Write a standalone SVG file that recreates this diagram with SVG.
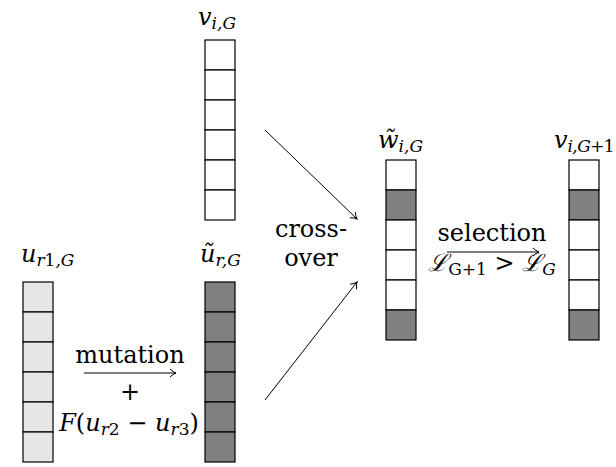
<svg xmlns="http://www.w3.org/2000/svg" width="616" height="467" viewBox="0 0 616 467">
<style>
text{font-family:'DejaVu Serif','Liberation Serif',serif}
.t{font-size:24px;fill:#000}
.m{font-size:24px;font-style:italic;fill:#000}
.s{font-size:17px}
.up{font-style:normal}
.c{stroke:#000;stroke-width:1.2}
.w{fill:#fff}
.g{fill:#808080}
.l{fill:#e6e6e6}
.a{stroke:#000;stroke-width:1;fill:none}
</style>
<defs>
<marker id="ah" markerWidth="12" markerHeight="12" refX="9" refY="6" orient="auto" markerUnits="userSpaceOnUse">
<path d="M3,2 Q6,5 9,6 Q6,7 3,10" fill="none" stroke="#000" stroke-width="1"/>
</marker>
</defs>
<g id="v_iG">
<rect class="c w" x="205" y="40" width="30" height="30"/>
<rect class="c w" x="205" y="70" width="30" height="30"/>
<rect class="c w" x="205" y="100" width="30" height="30"/>
<rect class="c w" x="205" y="130" width="30" height="30"/>
<rect class="c w" x="205" y="160" width="30" height="30"/>
<rect class="c w" x="205" y="190" width="30" height="30"/>
<text class="m" x="198" y="25">v<tspan class="s" dy="4">i,G</tspan></text>
</g>
<g id="u_r1G">
<rect class="c l" x="23" y="282" width="30" height="30"/>
<rect class="c l" x="23" y="312" width="30" height="30"/>
<rect class="c l" x="23" y="342" width="30" height="30"/>
<rect class="c l" x="23" y="372" width="30" height="30"/>
<rect class="c l" x="23" y="402" width="30" height="30"/>
<rect class="c l" x="23" y="432" width="30" height="30"/>
<text class="m" x="21" y="262">u<tspan class="s" dy="4">r<tspan class="up">1</tspan>,G</tspan></text>
</g>
<g id="u_rG">
<rect class="c g" x="205" y="282" width="30" height="30"/>
<rect class="c g" x="205" y="312" width="30" height="30"/>
<rect class="c g" x="205" y="342" width="30" height="30"/>
<rect class="c g" x="205" y="372" width="30" height="30"/>
<rect class="c g" x="205" y="402" width="30" height="30"/>
<rect class="c g" x="205" y="432" width="30" height="30"/>
<text class="m" x="200" y="262">ũ<tspan class="s" dy="4">r,G</tspan></text>
</g>
<g id="w_iG">
<rect class="c w" x="386" y="160" width="30" height="30"/>
<rect class="c g" x="386" y="190" width="30" height="30"/>
<rect class="c w" x="386" y="220" width="30" height="30"/>
<rect class="c w" x="386" y="250" width="30" height="30"/>
<rect class="c w" x="386" y="280" width="30" height="30"/>
<rect class="c g" x="386" y="310" width="30" height="30"/>
<text class="m" x="378" y="148">w̃<tspan class="s" dy="4">i,G</tspan></text>
</g>
<g id="v_iG1">
<rect class="c w" x="569" y="160" width="30" height="30"/>
<rect class="c g" x="569" y="190" width="30" height="30"/>
<rect class="c w" x="569" y="220" width="30" height="30"/>
<rect class="c w" x="569" y="250" width="30" height="30"/>
<rect class="c w" x="569" y="280" width="30" height="30"/>
<rect class="c g" x="569" y="310" width="30" height="30"/>
<text class="m" x="614" y="148" text-anchor="end">v<tspan class="s" dy="4" letter-spacing="-0.6">i,G<tspan class="up">+1</tspan></tspan></text>
</g>
<g id="connectors">
<line class="a" x1="84" y1="373" x2="176" y2="373" marker-end="url(#ah)"/>
<line class="a" x1="265" y1="130" x2="357" y2="219" marker-end="url(#ah)"/>
<line class="a" x1="265" y1="400" x2="357" y2="282" marker-end="url(#ah)"/>
<line class="a" x1="447" y1="252" x2="539" y2="252" marker-end="url(#ah)"/>
</g>
<g id="labels">
<text class="t" x="130" y="363" text-anchor="middle">mutation</text>
<text class="t" x="130" y="400" text-anchor="middle">+</text>
<text class="m" x="129" y="431" text-anchor="middle">F<tspan class="up">(</tspan>u<tspan class="s" dy="4">r<tspan class="up">2</tspan></tspan><tspan dy="-4" class="up"> − </tspan>u<tspan class="s" dy="4">r<tspan class="up">3</tspan></tspan><tspan dy="-4" class="up">)</tspan></text>
<text class="t" x="311" y="237" text-anchor="middle">cross-</text>
<text class="t" x="311" y="266" text-anchor="middle">over</text>
<text class="t" x="492" y="241" text-anchor="middle" font-size="23">selection</text>
<text class="m" x="492" y="271" text-anchor="middle">ℒ<tspan class="s up" dy="4">G+1</tspan><tspan class="up" dy="-4"> &gt; </tspan>ℒ<tspan class="s" dy="4">G</tspan></text>
</g>
</svg>
